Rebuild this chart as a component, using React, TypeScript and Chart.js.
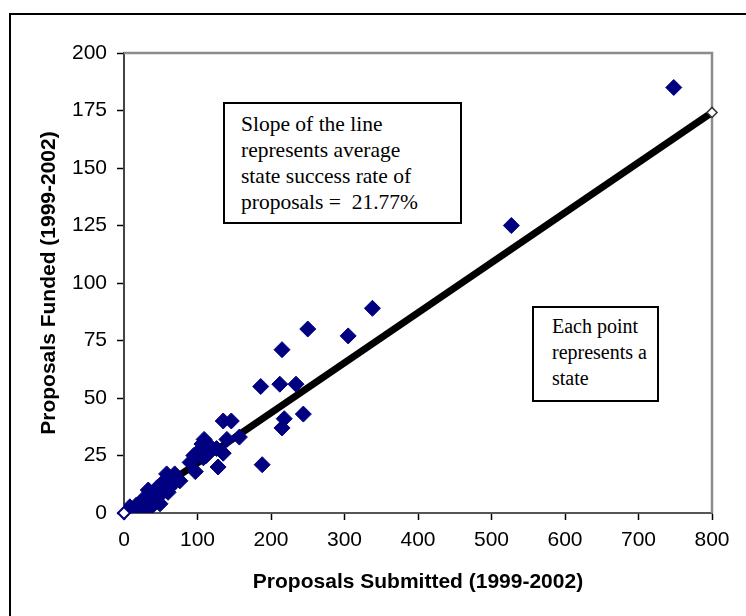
import React, { useEffect, useRef } from "react";
import { Chart, registerables } from "chart.js";

Chart.register(...registerables);

// Proposals submitted / funded per state (1999-2002)
const submitted: number[] = [
  748, 527, 338, 305, 250, 215, 186, 212, 234, 244, 218, 215, 188, 157, 146, 135,
  140, 128, 135, 109, 117, 99, 112, 97, 126, 106, 108, 69, 58, 67, 53, 76, 45, 33,
  44, 49, 26, 17, 8, 35, 26, 60, 40, 55, 62, 30, 20, 50, 72, 90, 95, 12,
];
const funded: number[] = [
  185, 125, 89, 77, 80, 71, 55, 56, 56, 43, 41, 37, 21, 33, 40, 40,
  32, 20, 26, 32, 29, 26, 25, 18, 28, 30, 24, 17, 17, 13, 12, 14, 11, 10,
  7, 4, 6, 3.5, 2.7, 2, 2, 9, 5, 14, 11, 4, 2, 8, 15, 22, 25, 1.5,
];
const averageRate = 0.2177;
const lineX: number[] = [0, 800];
const xTicks: number[] = [0, 100, 200, 300, 400, 500, 600, 700, 800];
const yTicks: number[] = [0, 25, 50, 75, 100, 125, 150, 175, 200];

const SANS = 'Arial, "Liberation Sans", sans-serif';
const SERIF = '"Times New Roman", "Liberation Serif", serif';

export default function App() {
  const ref = useRef<HTMLCanvasElement | null>(null);

  useEffect(() => {
    if (!ref.current) return;
    const points = submitted.map((x, i) => ({ x, y: funded[i] }));
    const linePts = lineX.map((x) => ({ x, y: x * averageRate }));

    const framePlugin = {
      id: "plotFrame",
      beforeDatasetsDraw(chart: any) {
        const { ctx, chartArea } = chart;
        ctx.save();
        ctx.strokeStyle = "#8c8c8c";
        ctx.lineWidth = 2.5;
        ctx.beginPath();
        ctx.moveTo(chartArea.left, chartArea.top);
        ctx.lineTo(chartArea.right, chartArea.top);
        ctx.lineTo(chartArea.right, chartArea.bottom);
        ctx.stroke();
        ctx.restore();
      },
    };

    const chart = new Chart(ref.current, {
      type: "scatter",
      data: {
        datasets: [
          {
            label: "Average line",
            data: linePts,
            showLine: true,
            borderColor: "#000",
            borderWidth: 7,
            pointRadius: 0,
            order: 3,
          },
          {
            label: "States",
            data: points,
            pointStyle: "rectRot",
            pointRadius: 8,
            pointBackgroundColor: "#000080",
            pointBorderColor: "#000080",
            pointBorderWidth: 1,
            order: 2,
          },
          {
            label: "Line ends",
            data: linePts,
            showLine: false,
            clip: false,
            pointStyle: "rectRot",
            pointRadius: [6, 5],
            pointBackgroundColor: "#fff",
            pointBorderColor: ["#000080", "#333"],
            pointBorderWidth: [2, 1.5],
            order: 1,
          },
        ],
      },
      options: {
        animation: false,
        responsive: false,
        layout: { padding: { left: 0, top: 53, right: 34, bottom: 0 } },
        plugins: {
          legend: { display: false },
          tooltip: { enabled: false },
        },
        scales: {
          x: {
            type: "linear",
            min: 0,
            max: 800,
            afterBuildTicks: (s: any) => {
              s.ticks = xTicks.map((v) => ({ value: v }));
            },
            afterFit: (s: any) => {
              s.height = 103;
            },
            ticks: {
              color: "#000",
              font: { family: SANS, size: 21 },
              padding: 8,
              maxRotation: 0,
            },
            grid: {
              drawOnChartArea: false,
              drawTicks: true,
              tickLength: 7,
              tickColor: "#000",
              tickWidth: 1.5,
            },
            border: { color: "#555", width: 2 },
            title: {
              display: true,
              text: "Proposals Submitted (1999-2002)",
              color: "#000",
              font: { family: SANS, size: 21, weight: "bold" },
              padding: { bottom: 21 },
            },
          },
          y: {
            type: "linear",
            min: 0,
            max: 200,
            afterBuildTicks: (s: any) => {
              s.ticks = yTicks.map((v) => ({ value: v }));
            },
            afterFit: (s: any) => {
              s.width = 124;
            },
            ticks: {
              color: "#000",
              font: { family: SANS, size: 21 },
              padding: 10,
            },
            grid: {
              drawOnChartArea: false,
              drawTicks: true,
              tickLength: 7,
              tickColor: "#000",
              tickWidth: 1.5,
            },
            border: { color: "#444", width: 2 },
            title: {
              display: true,
              text: "Proposals Funded (1999-2002)",
              color: "#000",
              font: { family: SANS, size: 21, weight: "bold" },
              padding: { top: 37 },
            },
          },
        },
      },
      plugins: [framePlugin],
    } as any);
    return () => chart.destroy();
  }, []);

  const boxStyle: React.CSSProperties = {
    position: "absolute",
    border: "2px solid #000",
    background: "#fff",
    fontFamily: SERIF,
    color: "#000",
    boxSizing: "border-box",
    lineHeight: "26px",
    whiteSpace: "nowrap",
  };

  return (
    <div
      style={{
        position: "absolute",
        left: 0,
        top: 0,
        width: 746,
        height: 616,
        overflow: "hidden",
        background: "#fff",
      }}
    >
      <div
        style={{
          position: "absolute",
          left: 9,
          top: 13,
          width: 780,
          height: 640,
          border: "2px solid #000",
          boxSizing: "border-box",
        }}
      />
      <canvas
        ref={ref}
        width={746}
        height={616}
        style={{ position: "absolute", left: 0, top: 0, width: 746, height: 616 }}
      />
      <div
        style={{
          ...boxStyle,
          left: 223,
          top: 102,
          width: 239,
          height: 122,
          fontSize: 21.5,
          paddingLeft: 16,
          paddingTop: 7,
        }}
      >
        Slope of the line
        <br />
        represents average
        <br />
        state success rate of
        <br />
        proposals =&nbsp; 21.77%
      </div>
      <div
        style={{
          ...boxStyle,
          left: 532,
          top: 306,
          width: 127,
          height: 96,
          fontSize: 20,
          paddingLeft: 18,
          paddingTop: 5,
        }}
      >
        Each point
        <br />
        represents a
        <br />
        state
      </div>
    </div>
  );
}
